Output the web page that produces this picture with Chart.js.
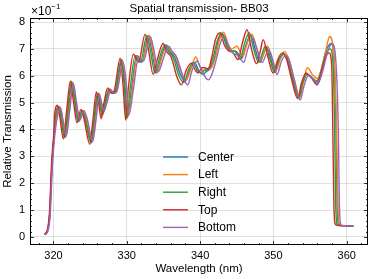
<!DOCTYPE html>
<html>
<head>
<meta charset="utf-8">
<script src="https://cdn.jsdelivr.net/npm/chart.js@4.4.0/dist/chart.umd.min.js"></script>
<style>
  html, body { margin: 0; padding: 0; background: #fff; }
  #wrap { width: 374px; height: 279px; }
</style>
</head>
<body>
<div id="wrap"><canvas id="chart"></canvas></div>
<script>
// --- data (wavelength nm, transmission x10^-1) ---
const seriesNames = ['Center', 'Left', 'Right', 'Top', 'Bottom'];
const seriesColors = ['#1f77b4', '#ff7f0e', '#2ca02c', '#d62728', '#9467bd'];
const xTicks = [320, 330, 340, 350, 360];
const yTicks = [0, 1, 2, 3, 4, 5, 6, 7, 8];

const center = [[318.8,0.10],[319.2,0.25],[319.5,0.9],[319.8,2.7],[320.1,3.8],[320.4,4.55],[320.8,4.85],[321.15,4.4],[321.6,3.7],[322.05,4.7],[322.55,5.75],[323.0,5.0],[323.45,4.3],[324.0,4.7],[324.45,4.35],[325.2,3.5],[325.65,4.4],[326.1,5.35],[326.45,4.9],[326.75,4.6],[327.15,5.0],[327.65,5.5],[328.15,5.35],[328.55,5.45],[329.35,6.6],[329.75,5.7],[330.1,4.45],[330.65,5.5],[331.35,6.75],[332.05,6.5],[332.95,7.5],[333.45,6.9],[334.05,6.1],[334.7,6.7],[335.4,7.15],[335.9,6.9],[336.5,6.7],[337.3,6.05],[338.0,5.8],[338.6,6.2],[339.25,6.5],[339.8,6.2],[340.4,6.05],[340.8,6.15],[341.3,6.25],[341.9,6.6],[342.5,7.3],[343.1,7.55],[343.7,7.15],[344.2,6.95],[344.95,6.9],[345.7,6.65],[346.2,7.1],[346.9,7.53],[347.5,7.0],[348.2,6.5],[348.7,6.85],[349.1,7.05],[349.7,6.6],[350.25,6.15],[350.85,6.6],[351.45,6.8],[351.95,6.6],[352.65,5.9],[353.5,5.2],[354.0,5.7],[354.6,6.05],[355.2,5.95],[355.9,5.8],[356.5,6.2],[357.15,6.9],[357.85,7.2],[358.3,6.5],[358.55,4.0],[358.7,1.2],[358.85,0.5],[359.1,0.43],[359.6,0.42],[360.9,0.40]];

const left = [[318.8,0.10],[319.2,0.25],[319.5,0.85],[319.8,2.65],[320.1,3.75],[320.5,4.55],[320.9,4.85],[321.25,4.4],[321.7,3.75],[322.15,4.7],[322.65,5.75],[323.1,5.0],[323.55,4.35],[324.1,4.7],[324.55,4.35],[325.3,3.55],[325.75,4.4],[326.2,5.35],[326.55,4.95],[326.85,4.65],[327.25,5.0],[327.75,5.5],[328.25,5.35],[328.65,5.45],[329.45,6.55],[329.85,5.75],[330.2,4.5],[330.75,5.5],[331.45,6.75],[332.15,6.55],[333.05,7.5],[333.55,6.95],[334.15,6.15],[334.8,6.7],[335.5,7.1],[336.0,6.95],[336.6,6.75],[337.4,6.15],[338.1,5.85],[338.8,6.3],[339.4,6.7],[339.95,6.35],[340.5,6.2],[340.9,6.25],[341.4,6.25],[342.0,6.6],[342.6,7.3],[343.2,7.62],[343.8,7.2],[344.3,7.0],[345.05,7.1],[345.8,6.7],[346.3,7.1],[347.05,7.55],[347.65,7.1],[348.3,6.6],[348.8,6.9],[349.2,7.1],[349.8,6.65],[350.35,6.2],[350.95,6.65],[351.5,6.9],[352.05,6.65],[352.75,5.95],[353.6,5.2],[354.1,5.8],[354.65,6.3],[355.3,6.05],[356.0,5.9],[356.6,6.3],[357.2,7.0],[357.65,7.46],[358.2,6.9],[358.6,4.2],[358.8,1.2],[358.95,0.5],[359.2,0.43],[359.7,0.42],[360.9,0.40]];

const right = [[318.8,0.10],[319.2,0.25],[319.5,0.9],[319.8,2.75],[320.1,3.85],[320.3,4.55],[320.7,4.85],[321.05,4.4],[321.5,3.7],[321.95,4.7],[322.45,5.8],[322.9,5.0],[323.35,4.3],[323.9,4.7],[324.35,4.35],[325.1,3.5],[325.55,4.4],[326.0,5.35],[326.35,4.9],[326.65,4.5],[327.05,5.0],[327.55,5.5],[328.05,5.35],[328.45,5.45],[329.25,6.6],[329.65,5.65],[330.0,4.4],[330.45,5.5],[331.15,6.75],[331.85,6.5],[332.75,7.5],[333.25,6.9],[333.85,6.1],[334.5,6.7],[335.2,7.15],[335.7,6.9],[336.3,6.7],[337.1,6.0],[337.8,5.75],[338.4,6.2],[339.05,6.5],[339.6,6.2],[340.2,6.1],[340.6,6.2],[341.1,6.25],[341.75,6.65],[342.35,7.3],[342.95,7.58],[343.55,7.15],[344.05,6.95],[344.8,6.9],[345.5,6.6],[346.0,7.15],[346.7,7.6],[347.3,7.0],[348.0,6.5],[348.5,6.85],[348.9,7.1],[349.55,6.6],[350.15,6.12],[350.75,6.6],[351.35,6.8],[351.85,6.6],[352.55,5.9],[353.45,5.15],[353.95,5.7],[354.55,6.05],[355.15,5.95],[355.95,5.75],[356.5,6.15],[357.15,6.8],[357.75,7.0],[358.15,6.4],[358.35,4.0],[358.5,1.2],[358.65,0.5],[358.9,0.43],[359.5,0.42],[360.9,0.40]];

const top_ = [[318.75,0.10],[319.15,0.25],[319.45,0.9],[319.75,2.8],[320.05,3.9],[320.15,4.55],[320.55,4.9],[320.9,4.4],[321.35,3.65],[321.8,4.7],[322.3,5.8],[322.75,5.0],[323.2,4.25],[323.75,4.75],[324.2,4.35],[324.95,3.45],[325.4,4.4],[325.85,5.4],[326.2,4.9],[326.5,4.4],[326.9,5.0],[327.4,5.55],[327.9,5.35],[328.3,5.45],[329.1,6.65],[329.5,5.6],[329.85,4.35],[330.2,5.5],[330.9,6.8],[331.6,6.5],[332.5,7.55],[333.0,6.9],[333.6,6.05],[334.25,6.7],[334.95,7.2],[335.45,6.9],[336.05,6.7],[336.85,5.95],[337.45,5.66],[338.1,6.2],[338.8,6.47],[339.35,6.2],[339.75,6.1],[340.25,6.3],[340.6,6.3],[341.1,6.25],[341.6,6.7],[342.1,7.35],[342.75,7.6],[343.3,7.15],[343.8,6.95],[344.5,6.85],[345.2,6.6],[345.75,7.2],[346.4,7.71],[347.0,7.0],[347.7,6.45],[348.2,6.9],[348.6,7.34],[349.25,6.7],[349.95,6.1],[350.6,6.6],[351.2,6.85],[351.75,6.65],[352.45,5.9],[353.3,5.15],[353.8,5.7],[354.45,6.1],[355.1,5.95],[356.0,5.66],[356.5,6.1],[357.1,6.7],[357.6,6.85],[357.95,6.4],[358.1,4.0],[358.25,1.2],[358.4,0.5],[358.7,0.43],[359.5,0.42],[360.9,0.40]];

const bottom = [[318.8,0.08],[319.25,0.22],[319.55,0.8],[319.85,2.6],[320.15,3.7],[320.55,4.5],[320.95,4.8],[321.3,4.35],[321.75,3.75],[322.2,4.65],[322.7,5.7],[323.15,5.0],[323.6,4.35],[324.15,4.7],[324.6,4.4],[325.35,3.55],[325.8,4.35],[326.25,5.3],[326.6,4.95],[326.9,4.7],[327.3,5.0],[327.8,5.45],[328.3,5.35],[328.7,5.45],[329.5,6.5],[329.9,5.8],[330.3,4.55],[330.9,5.5],[331.6,6.7],[332.3,6.55],[333.2,7.45],[333.7,6.95],[334.3,6.15],[335.0,6.65],[335.7,7.1],[336.2,6.9],[336.8,6.7],[337.65,6.0],[338.3,5.66],[338.9,6.2],[339.6,6.55],[340.2,6.2],[341.1,5.85],[341.6,6.05],[342.2,6.6],[342.8,7.25],[343.35,7.45],[343.95,7.05],[344.5,6.85],[345.2,6.75],[345.95,6.5],[346.5,7.0],[347.2,7.4],[347.8,6.95],[348.5,6.5],[349.0,6.8],[349.4,6.95],[350.0,6.5],[350.5,6.05],[351.1,6.55],[351.7,6.75],[352.2,6.55],[352.85,5.85],[353.65,5.1],[354.15,5.6],[354.75,6.0],[355.35,5.9],[356.05,5.7],[356.7,6.15],[357.35,6.85],[358.0,7.2],[358.5,6.6],[358.85,4.0],[359.0,1.2],[359.15,0.5],[359.4,0.43],[359.8,0.42],[360.9,0.40]];

const seriesData = [center, left, right, top_, bottom];

const FONT = "'Liberation Sans', Arial, 'DejaVu Sans', sans-serif";

// frame, inward ticks on all sides, title, offset text and legend inside the axes
const decorations = {
    id: 'decorations',
    afterDraw(chart) {
        const { ctx, chartArea: a, scales: { x, y } } = chart;
        ctx.save();
        ctx.strokeStyle = '#000';
        ctx.lineWidth = 1;
        ctx.strokeRect(a.left + 0.5, a.top + 0.5, a.right - a.left - 1, a.bottom - a.top - 1);

        const tick = (x1, y1, x2, y2) => {
            ctx.beginPath(); ctx.moveTo(x1, y1); ctx.lineTo(x2, y2); ctx.stroke();
        };
        ctx.lineWidth = 0.8;
        for (let v = 318; v <= x.max; v += 2) {
            const px = Math.round(x.getPixelForValue(v)) + 0.5;
            const len = xTicks.includes(v) ? 4 : 2;
            tick(px, a.bottom, px, a.bottom - len);
            tick(px, a.top, px, a.top + len);
        }
        for (let i = 0; i <= 40; i++) {
            const v = i / 5;
            const py = Math.round(y.getPixelForValue(v)) + 0.5;
            const len = i % 5 === 0 ? 4 : 2;
            tick(a.left, py, a.left + len, py);
            tick(a.right, py, a.right - len, py);
        }

        ctx.fillStyle = '#000';
        ctx.textBaseline = 'middle';
        ctx.textAlign = 'center';
        ctx.font = `11.6px ${FONT}`;
        ctx.fillText('Spatial transmission- BB03', (a.left + a.right) / 2, 9);

        ctx.textAlign = 'left';
        ctx.font = `12px ${FONT}`;
        ctx.fillText('\u00d710', a.left + 1, 12);
        const w = ctx.measureText('\u00d710').width;
        ctx.font = `8px ${FONT}`;
        ctx.fillText('\u22121', a.left + 1 + w, 7);

        // legend
        ctx.font = `12px ${FONT}`;
        const lx = a.left + 133, ly = 157, step = 17.6;
        chart.data.datasets.forEach((ds, i) => {
            const yy = ly + i * step;
            ctx.strokeStyle = ds.borderColor;
            ctx.lineWidth = 1.4;
            tick(lx, yy, lx + 25, yy);
            ctx.fillStyle = '#000';
            ctx.fillText(ds.label, lx + 35, yy + 0.5);
        });
        ctx.restore();
    }
};

const gridColor = 'rgba(0,0,0,0.12)';

new Chart(document.getElementById('chart'), {
    type: 'line',
    data: {
        datasets: seriesData.map((pts, i) => ({
            label: seriesNames[i],
            data: pts.map(p => ({ x: p[0], y: p[1] })),
            borderColor: seriesColors[i],
            borderWidth: 1.4,
            pointRadius: 0,
            fill: false,
            cubicInterpolationMode: 'monotone',
            order: seriesNames.length - i
        }))
    },
    options: {
        responsive: true,
        maintainAspectRatio: false,
        animation: false,
        layout: { padding: { top: 18, right: 6, left: 0, bottom: 0 } },
        plugins: { legend: { display: false }, tooltip: { enabled: false }, title: { display: false } },
        scales: {
            x: {
                type: 'linear',
                min: 316.8,
                max: 362.9,
                afterBuildTicks: s => { s.ticks = xTicks.map(v => ({ value: v })); },
                afterFit: s => { s.height = 34; },
                ticks: { color: '#000', font: { family: FONT, size: 11 }, padding: 4, maxRotation: 0 },
                grid: { color: gridColor, drawTicks: false },
                border: { display: false },
                title: { display: true, text: 'Wavelength (nm)', color: '#000', font: { family: FONT, size: 11.5 }, padding: { top: 2, bottom: 3 } }
            },
            y: {
                type: 'linear',
                min: -0.3,
                max: 8.15,
                afterBuildTicks: s => { s.ticks = yTicks.map(v => ({ value: v })); },
                afterFit: s => { s.width = 30; },
                ticks: { color: '#000', font: { family: FONT, size: 11 }, padding: 5 },
                grid: { color: gridColor, drawTicks: false },
                border: { display: false },
                title: { display: true, text: 'Relative Transmission', color: '#000', font: { family: FONT, size: 11.5 }, padding: { top: 1, bottom: 0 } }
            }
        }
    },
    plugins: [decorations]
});
</script>
</body>
</html>
